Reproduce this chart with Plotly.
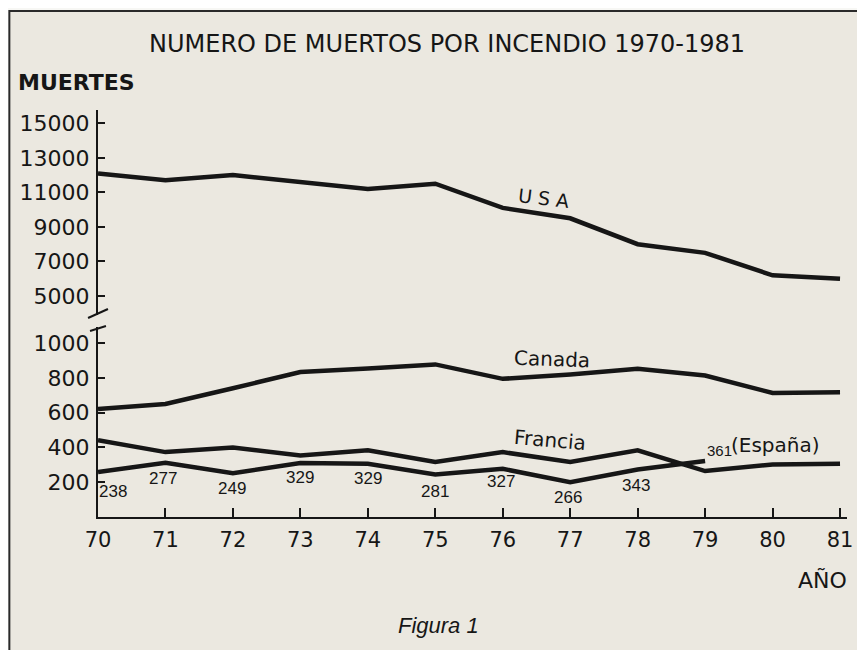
import plotly.graph_objects as go

years = list(range(70, 82))
year_labels = [str(y) for y in years]

usa = [12100, 11700, 12000, 11600, 11200, 11500, 10100, 9500, 8000, 7500, 6200, 6000]
canada = [620, 650, 740, 833, 854, 877, 794, 819, 852, 813, 713, 717]
francia = [441, 373, 399, 354, 383, 316, 373, 316, 383, 264, 302, 306]
espana_years = list(range(70, 80))
espana = [258, 312, 252, 310, 306, 244, 277, 200, 273, 322]
espana_labels = [238, 277, 249, 329, 329, 281, 327, 266, 343, 361]

upper_ticks = [5000, 7000, 9000, 11000, 13000, 15000]
upper_labels = ["5000", "7000", "9000", "11000", "13000", "15000"]
lower_ticks = [200, 400, 600, 800, 1000]
lower_labels = ["200", "400", "600", "800", "1000"]

INK = "#161616"
BG = "#EBE8E0"
OUT = "#F7F7F4"

# the page body has an 8px margin: figure drawn at page offset (8, 8)
OFF = 8
FW, FH = 865 - OFF, 650 - OFF
# plot-area in page pixels
PL, PR, PT, PB = 98, 850, 110, 517
L, R, T, B = PL - OFF, 865 - PR, PT - OFF, 650 - PB
W = PR - PL
H = PB - PT
def px(x):
    return (x - PL) / W
def py(y):
    return (PB - y) / H

fig = go.Figure()

line_style = dict(color=INK, width=4.5)
fig.add_trace(go.Scatter(x=years, y=usa, mode="lines", line=line_style, yaxis="y2", hoverinfo="skip"))
fig.add_trace(go.Scatter(x=years, y=canada, mode="lines", line=line_style, yaxis="y", hoverinfo="skip"))
fig.add_trace(go.Scatter(x=years, y=francia, mode="lines", line=line_style, yaxis="y", hoverinfo="skip"))
fig.add_trace(go.Scatter(x=espana_years, y=espana, mode="lines", line=line_style, yaxis="y", hoverinfo="skip"))

hand = "DejaVu Sans"
helv = "Liberation Sans"

def text_at(text, x, y, size, family=hand, xanchor="center"):
    return dict(text=text, xref="paper", yref="paper", x=px(x), y=py(y), xanchor=xanchor,
                yanchor="middle", showarrow=False, font=dict(family=family, size=size, color=INK))

ann = [
    text_at("NUMERO DE MUERTOS POR INCENDIO 1970-1981", 448, 44, 24),
    text_at("<b>MUERTES</b>", 16, 82, 22, xanchor="left"),
    text_at("AÑO", 825, 580, 22),
    text_at("<i>Figura 1</i>", 440, 625, 22, family=helv),
]
ann.append(dict(text="U S A", x=76.6, y=10650, xref="x", yref="y2", showarrow=False, textangle=7,
                font=dict(family=hand, size=19, color=INK)))
ann.append(dict(text="Canada", x=76.73, y=910, xref="x", yref="y", showarrow=False, textangle=2,
                font=dict(family=hand, size=20, color=INK)))
ann.append(dict(text="Francia", x=76.7, y=440, xref="x", yref="y", showarrow=False, textangle=5,
                font=dict(family=hand, size=20, color=INK)))

shifts = [(15, -19), (-2, -16), (-1, -15), (0, -14), (0, -15), (0, -17), (-2, -13), (-2, -15), (-2, -16)]
for i, (dx, dy) in enumerate(shifts):
    ann.append(dict(text=str(espana_labels[i]), x=espana_years[i], y=espana[i], xref="x", yref="y",
                    showarrow=False, xshift=dx, yshift=dy,
                    font=dict(family=helv, size=17, color=INK)))
ann.append(dict(text=str(espana_labels[9]), x=espana_years[9], y=espana[9], xref="x", yref="y",
                showarrow=False, xshift=14, yshift=10, font=dict(family=helv, size=15, color=INK)))
ann.append(dict(text="(España)", x=espana_years[9], y=espana[9], xref="x", yref="y",
                showarrow=False, xshift=70, yshift=16, font=dict(family=hand, size=20, color=INK)))

shapes = [
    # paper card with frame
    dict(type="rect", xref="paper", yref="paper", x0=px(9), x1=px(880), y0=py(665), y1=py(11),
         fillcolor=BG, line=dict(color="#2a2a2a", width=2), layer="below"),
    # axis break marks
    dict(type="line", xref="paper", yref="paper", x0=px(88), y0=py(318), x1=px(108), y1=py(309),
         line=dict(color=INK, width=2)),
    dict(type="line", xref="paper", yref="paper", x0=px(90), y0=py(331), x1=px(106), y1=py(326),
         line=dict(color=INK, width=2)),
]

fig.update_layout(
    width=FW, height=FH,
    margin=dict(l=L, r=R, t=T, b=B),
    paper_bgcolor=OUT, plot_bgcolor="rgba(0,0,0,0)",
    showlegend=False,
    annotations=ann, shapes=shapes,
    xaxis=dict(range=[70, 70 + 11 * W / 745], tickvals=years, ticktext=year_labels, showline=True,
               linecolor=INK, linewidth=2, ticks="inside", ticklen=9, tickwidth=2, tickcolor=INK,
               showgrid=False, zeroline=False, ticklabelstandoff=3,
               tickfont=dict(family=hand, size=21, color=INK)),
    yaxis=dict(domain=[0, py(327)], range=[0, (517 - 327) / 0.174], tickvals=lower_ticks,
               ticktext=lower_labels,
               showline=True, linecolor=INK, linewidth=2, ticks="inside", ticklen=7, tickwidth=2,
               tickcolor=INK, showgrid=False, zeroline=False, ticklabelstandoff=2,
               tickfont=dict(family=hand, size=22, color=INK)),
    yaxis2=dict(domain=[py(315), 1], range=[5000 - (315 - 296) / 0.01727, 15000 + (123.3 - 110) / 0.01727],
                tickvals=upper_ticks, ticktext=upper_labels, showline=True, linecolor=INK, linewidth=2,
                ticks="inside", ticklen=7, tickwidth=2, tickcolor=INK, showgrid=False, zeroline=False,
                ticklabelstandoff=2, tickfont=dict(family=hand, size=22, color=INK)),
)

fig.write_html("out.html")
